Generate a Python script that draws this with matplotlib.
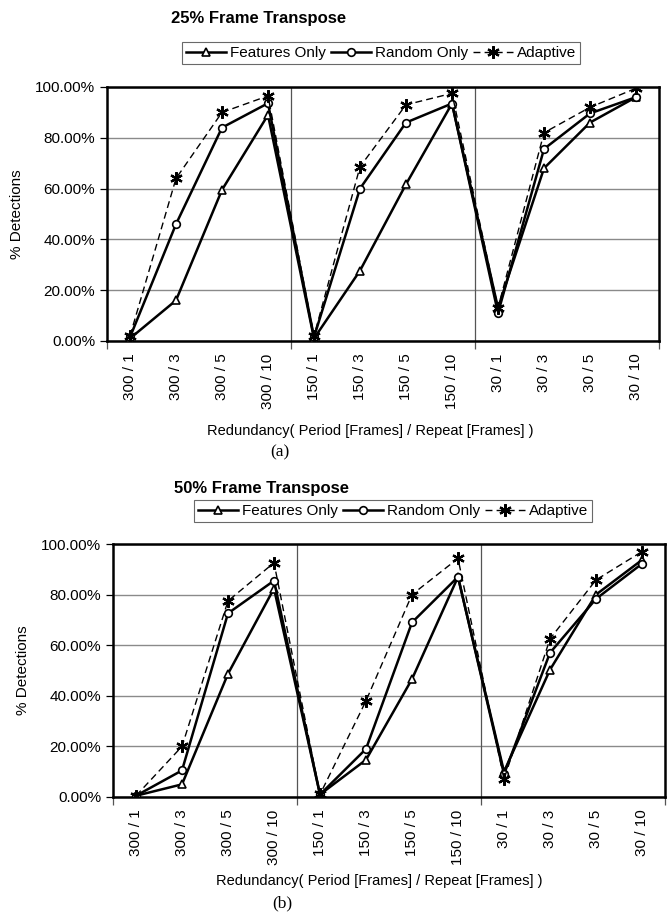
import matplotlib.pyplot as plt
import numpy as np

plt.rcParams['font.family'] = ['Liberation Sans', 'DejaVu Sans']

# categories: period / repeat (frames)
labels = ['300 / 1', '300 / 3', '300 / 5', '300 / 10',
          '150 / 1', '150 / 3', '150 / 5', '150 / 10',
          '30 / 1', '30 / 3', '30 / 5', '30 / 10']

# 25% frame transpose, % detections
features_25 = [1.0, 16.0, 59.5, 89.0, 1.0, 27.7, 61.7, 93.5, 13.0, 68.0, 86.0, 96.0]
random_25 = [1.5, 46.0, 84.0, 93.6, 1.5, 60.0, 86.0, 93.5, 11.0, 75.6, 89.6, 96.0]
adaptive_25 = [2.0, 64.0, 90.0, 96.5, 2.0, 68.6, 93.0, 97.5, 13.0, 82.0, 92.0, 99.5]

# 50% frame transpose, % detections
features_50 = [0.5, 5.0, 48.7, 82.4, 1.0, 14.7, 46.6, 87.0, 10.0, 50.3, 80.0, 93.7]
random_50 = [0.5, 10.5, 72.6, 85.5, 1.0, 19.0, 69.0, 87.0, 9.0, 57.0, 78.3, 92.2]
adaptive_50 = [0.5, 20.0, 77.5, 92.6, 1.0, 38.0, 80.0, 94.3, 7.0, 62.5, 85.8, 97.0]

star = (6, 2, 0)  # asterisk-like marker for the adaptive series


def draw_panel(ax, features, random, adaptive, xlabel_pad, xlabel_x):
	x = np.arange(len(labels))
	ax.plot(x, features, color='black', lw=1.8, marker='^', ms=6, mfc='white', mec='black', mew=1.2,
			label='Features Only', zorder=3)
	ax.plot(x, random, color='black', lw=1.8, marker='o', ms=5.5, mfc='white', mec='black', mew=1.2,
			label='Random Only', zorder=4)
	ax.plot(x, adaptive, color='black', lw=1.0, ls=(0, (5, 3)), marker=star, ms=9, mec='black', mew=1.6,
			label='Adaptive', zorder=5)

	ax.set_xlim(-0.5, len(labels) - 0.5)
	ax.set_ylim(0, 100)
	ax.set_yticks(np.arange(0, 101, 20))
	ax.set_yticklabels(['%.2f%%' % v for v in np.arange(0, 101, 20)], fontsize=11)
	ax.yaxis.grid(True, color='#8a8a8a', lw=1.0)
	ax.set_axisbelow(True)

	# group separators, with tick marks at the group edges
	for b in [3.5, 7.5]:
		ax.axvline(b, color='#555555', lw=0.9, zorder=1)
	ax.set_xticks([-0.5, 3.5, 7.5, 11.5])
	ax.set_xticklabels([])
	ax.set_xticks(x, minor=True)
	ax.set_xticklabels(labels, minor=True, rotation=90, fontsize=11)
	ax.tick_params(axis='x', which='major', direction='out', length=6, width=0.9, color='#555555')
	ax.tick_params(axis='x', which='minor', length=0, pad=9)
	ax.tick_params(axis='y', direction='out', length=5, width=0.9)

	for s in ax.spines.values():
		s.set_linewidth(1.8)
		s.set_color('black')

	ax.set_ylabel('% Detections', fontsize=11, labelpad=8)
	ax.set_xlabel('Redundancy( Period [Frames] / Repeat [Frames] )', fontsize=10.5, labelpad=xlabel_pad)
	ax.xaxis.label.set_x(xlabel_x)


fig = plt.figure(figsize=(6.7, 9.15), dpi=100)

ax1 = fig.add_axes([107 / 670, 1 - 341 / 915, 552 / 670, 254 / 915])
draw_panel(ax1, features_25, random_25, adaptive_25, 11, 0.477)
ax2 = fig.add_axes([113 / 670, 1 - 797 / 915, 552 / 670, 253 / 915])
draw_panel(ax2, features_50, random_50, adaptive_50, 7, 0.482)

fig.text(259 / 670, 1 - 19 / 915, '25% Frame Transpose', fontsize=12, fontweight='bold', ha='center', va='center')
fig.text(261 / 670, 1 - 488 / 915, '50% Frame Transpose', fontsize=12, fontweight='bold', ha='center', va='center')

for ax, cx, cy in [(ax1, 381, 53), (ax2, 393, 511)]:
	h, l = ax.get_legend_handles_labels()
	leg = fig.legend(h, l, loc='center', bbox_to_anchor=(cx / 670, 1 - cy / 915), ncol=3, fontsize=11,
					 frameon=True, fancybox=False, edgecolor='#444444', handlelength=2.6, handletextpad=0.25,
					 columnspacing=0.35, borderpad=0.25, borderaxespad=0)
	leg.get_frame().set_linewidth(0.8)

fig.text(280 / 670, 1 - 452 / 915, '(a)', fontsize=12.5, family=['Liberation Serif', 'DejaVu Serif'], ha='center', va='center')
fig.text(282 / 670, 1 - 903 / 915, '(b)', fontsize=12.5, family=['Liberation Serif', 'DejaVu Serif'], ha='center', va='center')

fig.savefig('out.png', dpi=100)
